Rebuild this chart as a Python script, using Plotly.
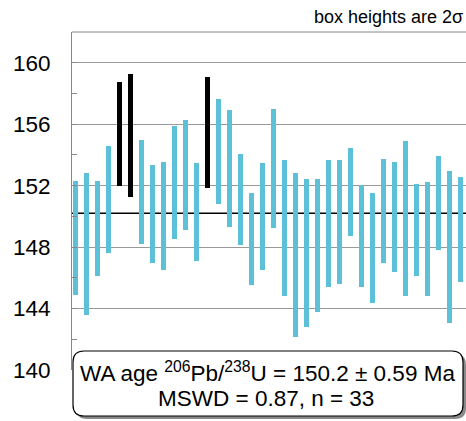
import plotly.graph_objects as go

# Analysis number (1..36), ages (Ma) and 2-sigma box half-heights
analysis = list(range(1, 37))
age = [148.62, 148.22, 149.24, 151.09, 155.35, 155.26, 151.60, 150.16, 150.04, 152.20,
       152.70, 150.26, 155.46, 154.22, 153.13, 151.09, 148.51, 149.97, 153.12, 149.24,
       147.50, 147.61, 148.12, 149.54, 149.64, 151.59, 148.72, 147.92, 150.36, 149.96,
       149.86, 149.13, 148.52, 150.87, 148.01, 149.15]
err2s = [3.71, 4.61, 3.09, 3.50, 3.40, 4.00, 3.38, 3.18, 3.50, 3.68,
         3.59, 3.19, 3.59, 3.39, 3.80, 2.98, 2.99, 3.49, 3.90, 4.41,
         5.33, 4.83, 4.32, 4.11, 4.01, 2.87, 3.29, 3.59, 3.38, 3.59,
         5.03, 2.98, 3.69, 3.09, 4.92, 3.39]
rejected = [5, 6, 13]
wa_age = 150.2
y_ticks = [140, 144, 148, 152, 156, 160]

BLUE = "#5bc0d8"
FONT = "Liberation Sans, Arial, sans-serif"

base = [a - e for a, e in zip(age, err2s)]
height = [2 * e for e in err2s]
colors = ["#000000" if n in rejected else BLUE for n in analysis]

fig = go.Figure()
fig.add_trace(go.Bar(x=analysis, y=height, base=base, width=0.42,
                     marker=dict(color=colors, line=dict(width=0)),
                     hoverinfo="skip"))

# weighted-average line
fig.add_shape(type="line", xref="paper", yref="y", x0=0, x1=1, y0=wa_age, y1=wa_age,
              line=dict(color="black", width=1.6), layer="below")
# top frame line
fig.add_shape(type="line", xref="paper", yref="paper", x0=0, x1=1, y0=1, y1=1,
              line=dict(color="#888", width=1))

# rounded result box with shadow
W, H = 394.0, 338.0
def rrect(x0, y0, x1, y1, r):
    rx, ry = r / W, r / H
    return (f"M {x0+rx} {y1} L {x1-rx} {y1} Q {x1} {y1} {x1} {y1-ry} "
            f"L {x1} {y0+ry} Q {x1} {y0} {x1-rx} {y0} L {x0+rx} {y0} "
            f"Q {x0} {y0} {x0} {y0+ry} L {x0} {y1-ry} Q {x0} {y1} {x0+rx} {y1} Z")

bx0, bx1 = 1 / W, 391 / W
by1, by0 = (370 - 351) / H, (370 - 416) / H
dx, dy = 3 / W, 3 / H
fig.add_shape(type="path", xref="paper", yref="paper",
              path=rrect(bx0 + dx, by0 - dy, bx1 + dx, by1 - dy, 11),
              fillcolor="#8a8a8a", line=dict(width=0))
fig.add_shape(type="path", xref="paper", yref="paper",
              path=rrect(bx0, by0, bx1, by1, 11),
              fillcolor="white", line=dict(color="black", width=1.2))

fig.add_annotation(xref="paper", yref="paper", x=(267 - 72) / W, y=(370 - 372) / H,
                   text=f"WA age <sup>206</sup>Pb/<sup>238</sup>U = {wa_age} ± 0.59 Ma",
                   showarrow=False, xanchor="center", yanchor="middle",
                   font=dict(family=FONT, size=22.5, color="black"))
fig.add_annotation(xref="paper", yref="paper", x=(266 - 72) / W, y=(370 - 398.5) / H,
                   text="MSWD = 0.87, n = 33",
                   showarrow=False, xanchor="center", yanchor="middle",
                   font=dict(family=FONT, size=22.5, color="black"))
fig.add_annotation(xref="paper", yref="paper", x=(465 - 72) / W, y=(370 - 17) / H,
                   text="box heights are 2σ", showarrow=False,
                   xanchor="right", yanchor="middle",
                   font=dict(family=FONT, size=18, color="black"))

fig.update_layout(
    width=466, height=421,
    margin=dict(l=72, r=0, t=32, b=51),
    paper_bgcolor="white", plot_bgcolor="white",
    showlegend=False, bargap=0,
    font=dict(family=FONT, color="black"),
    xaxis=dict(range=[1 - 3.7 / 11, 1 + (466 - 75.7) / 11], visible=False, fixedrange=True),
    yaxis=dict(range=[140, 162], tickvals=y_ticks, ticktext=[str(t) for t in y_ticks],
               showgrid=True, gridcolor="#999", gridwidth=1, zeroline=False,
               showline=True, linecolor="#888", linewidth=1,
               ticks="inside", ticklen=5, tickcolor="#888",
               minor=dict(tickvals=[142, 146, 150, 154, 158], ticks="inside",
                          ticklen=5, tickcolor="#888", showgrid=False),
               tickfont=dict(family=FONT, size=22.5, color="black"),
               ticklabelstandoff=16, fixedrange=True),
)

fig.write_html("out.html")
